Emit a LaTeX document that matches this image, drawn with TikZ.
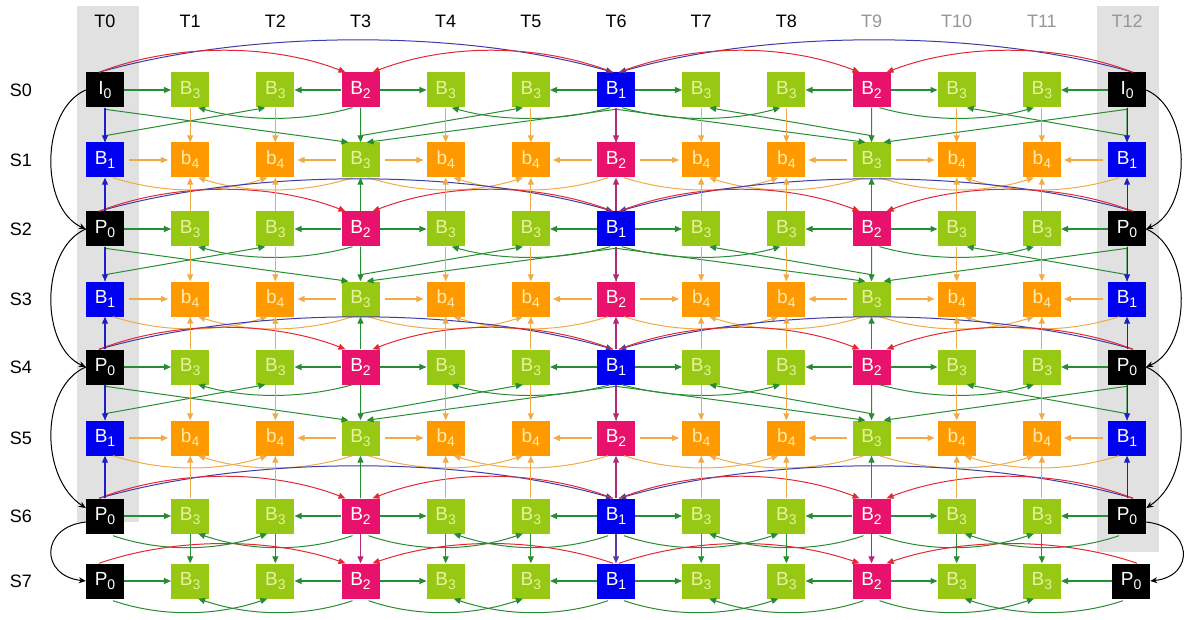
\documentclass[tikz,border=0pt]{standalone}
\usepackage{fontspec}
\setmainfont{Liberation Sans}
\usetikzlibrary{arrows.meta,calc}
\definecolor{cBlue}{RGB}{0,0,240}
\definecolor{cPink}{RGB}{232,18,108}
\definecolor{cGreen}{RGB}{150,200,20}
\definecolor{cOrange}{RGB}{255,153,0}
\definecolor{tGreen}{RGB}{232,242,160}
\definecolor{tOrange}{RGB}{255,236,170}
\definecolor{lGreen}{RGB}{40,140,50}
\definecolor{lOrange}{RGB}{240,170,70}
\definecolor{lRed}{RGB}{228,40,50}
\definecolor{lBlue}{RGB}{60,60,170}
\definecolor{lVBlue}{RGB}{30,30,200}
\definecolor{lMag}{RGB}{180,40,120}
\definecolor{lPurp}{RGB}{90,60,160}
\definecolor{bgGray}{RGB}{225,225,225}
\definecolor{hdGray}{RGB}{150,150,150}
\newcommand\lab[2]{#1\raisebox{-0.2em}{\fontsize{14}{14}\selectfont #2}}
\begin{document}
\begin{tikzpicture}[x=1pt,y=-1pt,
  box/.style={minimum width=38pt,minimum height=35pt,inner sep=0pt,font=\fontsize{19}{19}\selectfont},
  tI/.style={box,fill=black,text=white,node contents={\lab{I}{0}}},
  tP/.style={box,fill=black,text=white,node contents={\lab{P}{0}}},
  tU/.style={box,fill=cBlue,text=white,node contents={\lab{B}{1}}},
  tR/.style={box,fill=cPink,text=white,node contents={\lab{B}{2}}},
  tG/.style={box,fill=cGreen,text=tGreen,node contents={\lab{B}{3}}},
  tO/.style={box,fill=cOrange,text=tOrange,node contents={\lab{b}{4}}},
  hd/.style={font=\fontsize{18}{18}\selectfont,inner sep=0pt},
  arr/.style={line width=1.1pt,-{Triangle[length=7pt,width=6pt]}},
  hg/.style={arr,color=lGreen},
  ho/.style={arr,color=lOrange,shorten <=5pt,shorten >=3pt},
  gl/.style={arr,color=lGreen,line width=1pt},
  ol/.style={arr,color=lOrange,line width=1pt},
  ra/.style={arr,color=lRed,line width=1pt},
  ba/.style={arr,color=lBlue,line width=1pt},
  blk/.style={line width=1pt,black,-{Stealth[length=7pt,width=6pt]}}]
\useasboundingbox (0,0) rectangle (1188,620);
\fill[bgGray] (77,6) rectangle (139,522);
\fill[bgGray] (1097,6) rectangle (1159,552);
% headers
\foreach \cc in {0,...,12}{
  \pgfmathsetmacro\xx{105+85.17*\cc}
  \ifnum\cc>8 \node[hd,text=hdGray] (h\cc) at (\xx,21) {T\cc};
  \else \node[hd] (h\cc) at (\xx,21) {T\cc}; \fi
}
% nodes
\foreach \r/\y/\types in {0/90/{tI,tG,tG,tR,tG,tG,tU,tG,tG,tR,tG,tG,tI},1/160/{tU,tO,tO,tG,tO,tO,tR,tO,tO,tG,tO,tO,tU},2/229/{tP,tG,tG,tR,tG,tG,tU,tG,tG,tR,tG,tG,tP},3/299/{tU,tO,tO,tG,tO,tO,tR,tO,tO,tG,tO,tO,tU},4/367/{tP,tG,tG,tR,tG,tG,tU,tG,tG,tR,tG,tG,tP},5/438/{tU,tO,tO,tG,tO,tO,tR,tO,tO,tG,tO,tO,tU},6/516/{tP,tG,tG,tR,tG,tG,tU,tG,tG,tR,tG,tG,tP},7/581/{tP,tG,tG,tR,tG,tG,tU,tG,tG,tR,tG,tG,tP}}{
  \node[hd] (s\r) at (21,\y) {S\r};
  \foreach \t [count=\cc from 0] in \types {
    \pgfmathsetmacro\xx{105+85.17*\cc+(\r==7)*(\cc==12)*4}
    \edef\mknode{\noexpand\node[name=n-\r-\cc,at={(\xx,\y)},\t];}
    \mknode
  }
}
% even rows: curves below (green)
\foreach \r/\d in {0/28,2/28,4/29}{
  \foreach \s/\t/\o in {0/2/-10,3/5/-8,9/7/8,12/10/10}{
    \draw[gl] (n-\r-\s.south) -- ++(0,\d) -- ([xshift=\o pt]n-\r-\t.south);
  }
  \foreach \s/\t/\so/\o/\dx in {3/1/-8/8/-50,6/4/-6/6/-50,6/8/6/-6/50,9/11/8/-8/50}{
    \draw[gl] ([xshift=\so pt]n-\r-\s.south) .. controls +(\dx,14) and +(-\dx,14) .. ([xshift=\o pt]n-\r-\t.south);
  }
}
% odd rows: curves above (green)
\foreach \r/\d in {1/33,3/33,5/34}{
  \foreach \s/\t/\o in {0/3/-12,6/3/6,6/9/-6,12/9/12}{
    \draw[gl] (n-\r-\s.north) -- ++(0,-\d) -- ([xshift=\o pt]n-\r-\t.north);
  }
}
% odd rows: sags below (orange)
\foreach \r in {1,3,5}{
  \foreach \s/\t/\so/\o/\dx in {0/2/8/-8/50,3/1/-8/8/-50,3/5/8/-8/50,6/4/-8/8/-50,6/8/8/-8/50,9/7/-8/8/-50,9/11/8/-8/50,12/10/-8/8/-50}{
    \draw[ol] ([xshift=\so pt]n-\r-\s.south) .. controls +(\dx,16) and +(-\dx,16) .. ([xshift=\o pt]n-\r-\t.south);
  }
}
% rows 6 and 7: sags below (green)
\foreach \r in {6,7}{
  \foreach \s/\t/\so/\o/\dx in {0/2/8/-8/50,3/1/-8/8/-50,3/5/8/-8/50,6/4/-8/8/-50,6/8/8/-8/50,9/7/-8/8/-50,9/11/8/-8/50,12/10/-8/8/-50}{
    \draw[gl] ([xshift=\so pt,yshift=-2pt]n-\r-\s.south) .. controls +(\dx,17) and +(-\dx,17) .. ([xshift=\o pt]n-\r-\t.south);
  }
}
% arcs above even rows
\foreach \r in {0,2,4,6}{
  \draw[ba] ([xshift=-6pt]n-\r-0.north) .. controls +(150,-43) and +(-150,-43) .. ([xshift=-3pt]n-\r-6.north);
  \draw[ba] ([xshift=6pt]n-\r-12.north) .. controls +(-150,-43) and +(150,-43) .. ([xshift=3pt]n-\r-6.north);
}
\foreach \r/\hr in {0/29,2/29,4/29,6/29,7/26}{
  \draw[ra] ([xshift=-6pt]n-\r-0.north) .. controls +(75,-\hr) and +(-75,-\hr) .. ([xshift=-15pt]n-\r-3.north);
  \draw[ra] ([xshift=-3pt]n-\r-6.north) .. controls +(-75,-\hr) and +(75,-\hr) .. ([xshift=12pt]n-\r-3.north);
  \draw[ra] ([xshift=3pt]n-\r-6.north) .. controls +(75,-\hr) and +(-75,-\hr) .. ([xshift=-12pt]n-\r-9.north);
  \draw[ra] ([xshift=6pt]n-\r-12.north) .. controls +(-75,-\hr) and +(75,-\hr) .. ([xshift=15pt]n-\r-9.north);
}
% horizontal arrows
\foreach \r/\st in {0/hg,1/ho,2/hg,3/ho,4/hg,5/ho,6/hg,7/hg}{
  \foreach \s/\t in {0/1,3/2,3/4,6/5,6/7,9/8,9/10,12/11}{
    \draw[\st] (n-\r-\s) -- (n-\r-\t);
  }
}
% vertical arrows
\foreach \cc/\col in {0/lVBlue,1/lOrange,2/lOrange,3/lGreen,4/lOrange,5/lOrange,6/lMag,7/lOrange,8/lOrange,9/lGreen,10/lOrange,11/lOrange,12/lVBlue}{
  \foreach \a/\b in {0/1,2/1,2/3,4/3,4/5,6/5}{
    \draw[arr,color=\col] (n-\a-\cc) -- (n-\b-\cc);
  }
}
\foreach \cc/\col in {1/lGreen,2/lGreen,3/lMag,4/lGreen,5/lGreen,6/lPurp,7/lGreen,8/lGreen,9/lMag,10/lGreen,11/lGreen}{
  \draw[arr,color=\col] (n-6-\cc) -- (n-7-\cc);
}
% black curves left and right
\draw[blk] (n-0-0.west) .. controls +(-46,20) and +(-46,-20) .. (n-2-0.west);
\draw[blk] (n-2-0.west) .. controls +(-46,20) and +(-46,-20) .. (n-4-0.west);
\draw[blk] (n-4-0.west) .. controls +(-46,20) and +(-46,-30) .. ([yshift=8pt]n-6-0.west);
\draw[blk] ([yshift=-6pt]n-6-0.west) .. controls +(-46,5) and +(-46,-5) .. (n-7-0.west);
\draw[blk] (n-0-12.east) .. controls +(46,20) and +(46,-20) .. (n-2-12.east);
\draw[blk] (n-2-12.east) .. controls +(46,20) and +(46,-20) .. (n-4-12.east);
\draw[blk] (n-4-12.east) .. controls +(46,20) and +(46,-30) .. ([yshift=8pt]n-6-12.east);
\draw[blk] ([yshift=-6pt]n-6-12.east) .. controls +(46,5) and +(46,-5) .. (n-7-12.east);
\end{tikzpicture}
\end{document}
